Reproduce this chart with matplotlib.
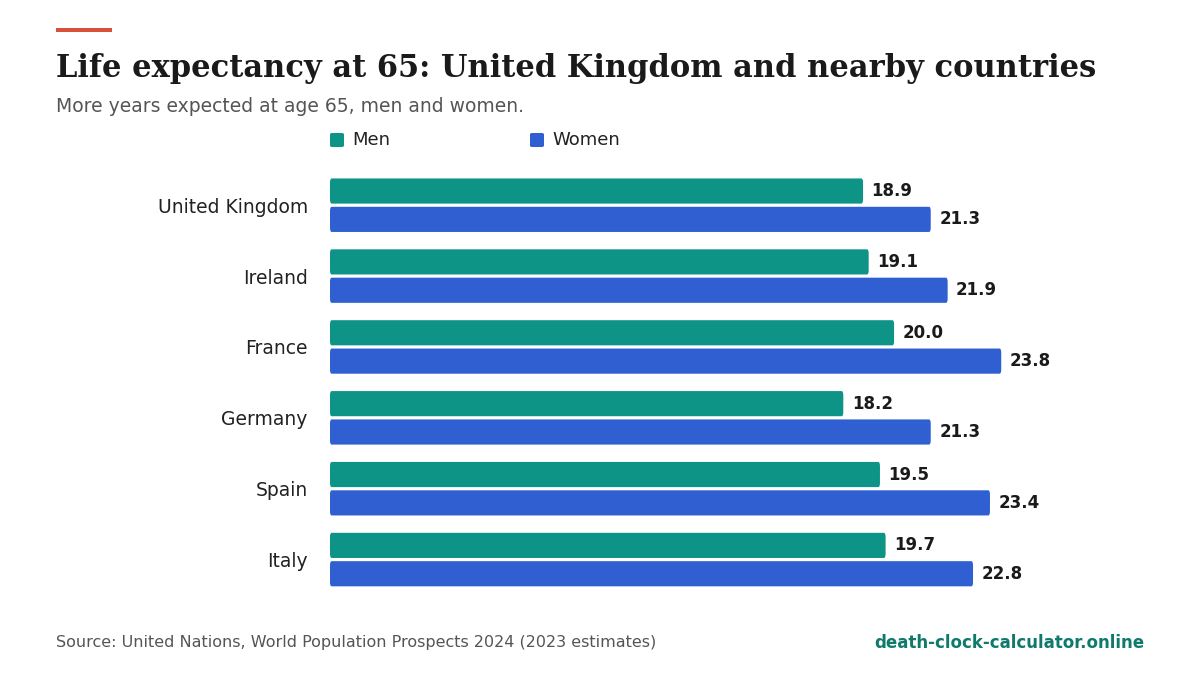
import matplotlib.pyplot as plt
from matplotlib.patches import FancyBboxPatch, Rectangle

countries = ["United Kingdom", "Ireland", "France", "Germany", "Spain", "Italy"]
men = [18.9, 19.1, 20.0, 18.2, 19.5, 19.7]
women = [21.3, 21.9, 23.8, 21.3, 23.4, 22.8]

c_men = "#0e9486"
c_women = "#2f5fd0"

fig = plt.figure(figsize=(12, 6.75), dpi=100)
ax = fig.add_axes([0.275, 0.1185, 0.675, 0.63])
ax.set_xlim(0, 28.72)
ax.set_ylim(5.5, -0.5)

h = 0.355
off = 0.2
for i in range(len(countries)):
    for val, dy, col in ((men[i], -off, c_men), (women[i], off, c_women)):
        ax.add_patch(FancyBboxPatch((0, i + dy - h / 2), val, h,
                                    boxstyle="round,pad=0,rounding_size=0.06",
                                    mutation_aspect=1.0, fc=col, ec="none"))
        ax.text(val + 0.3, i + dy, f"{val:.1f}", va="center", ha="left",
                fontsize=12, fontweight="bold", color="#1a1a1a")

ax.set_yticks(range(len(countries)))
ax.set_yticklabels(countries, fontsize=13.5, color="#222222")
ax.tick_params(axis="y", length=0, pad=16)
ax.set_xticks([])
for s in ax.spines.values():
    s.set_visible(False)

# header
fig.patches.append(Rectangle((56 / 1200, 1 - 32 / 675), 56 / 1200, 4 / 675,
                             transform=fig.transFigure, fc="#d9503a", ec="none"))
fig.text(56 / 1200, 1 - 69 / 675, "Life expectancy at 65: United Kingdom and nearby countries",
         fontsize=22, fontweight="bold", family="DejaVu Serif", color="#1a1a1a", va="center")
fig.text(56 / 1200, 1 - 106 / 675, "More years expected at age 65, men and women.",
         fontsize=13.5, color="#555555", va="center")

# legend
for x0, lab, col in ((330, "Men", c_men), (530, "Women", c_women)):
    fig.patches.append(FancyBboxPatch((x0 / 1200, 1 - 147 / 675), 14 / 1200, 14 / 675,
                                      boxstyle="round,pad=0,rounding_size=0.002",
                                      transform=fig.transFigure, fc=col, ec="none"))
    fig.text((x0 + 22) / 1200, 1 - 140 / 675, lab, fontsize=13, color="#222222", va="center")

# footer
fig.text(56 / 1200, 1 - 643 / 675, "Source: United Nations, World Population Prospects 2024 (2023 estimates)",
         fontsize=11.5, color="#555555", va="center")
fig.text(1144 / 1200, 1 - 643 / 675, "death-clock-calculator.online",
         fontsize=12, fontweight="bold", color="#0f7a6c", va="center", ha="right")

fig.savefig("out.png", dpi=100)
